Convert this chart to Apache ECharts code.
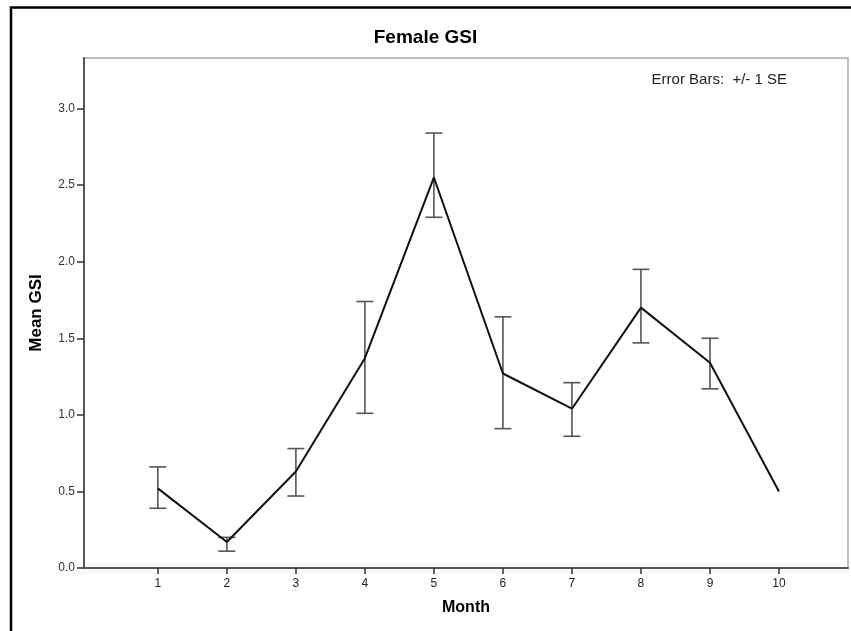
<!DOCTYPE html>
<html>
<head>
<meta charset="utf-8">
<script src="https://cdn.jsdelivr.net/npm/echarts@6/dist/echarts.min.js"></script>
<style>html,body{margin:0;padding:0;background:#fff}#c{width:851px;height:631px}</style>
</head>
<body>
<div id="c"></div>
<script>
var months = [1, 2, 3, 4, 5, 6, 7, 8, 9, 10];
var meanGSI = [0.52, 0.17, 0.63, 1.37, 2.55, 1.27, 1.04, 1.70, 1.34, 0.50];
var upperSE = [0.66, 0.20, 0.78, 1.74, 2.84, 1.64, 1.21, 1.95, 1.50, null];
var lowerSE = [0.39, 0.11, 0.47, 1.01, 2.29, 0.91, 0.86, 1.47, 1.17, null];
var yTicks = [0, 0.5, 1.0, 1.5, 2.0, 2.5, 3.0];

var lineData = months.map(function (m, i) { return [m, meanGSI[i]]; });
var errData = [];
months.forEach(function (m, i) {
  if (upperSE[i] != null && lowerSE[i] != null) errData.push([m, lowerSE[i], upperSE[i]]);
});

var chart = echarts.init(document.getElementById('c'), null, { renderer: 'canvas' });
var font = 'Liberation Sans, Arial, sans-serif';
chart.setOption({
  backgroundColor: '#fff',
  animation: false,
  title: {
    text: 'Female GSI', left: 'center', top: 23,
    textStyle: { fontFamily: font, fontSize: 19, fontWeight: 'bold', color: '#000' }
  },
  graphic: [
    { type: 'rect', z: -1, silent: true, shape: { x: 11, y: 7.5, width: 1000, height: 1000 },
      style: { fill: 'none', stroke: '#000', lineWidth: 2.5 } },
    { type: 'text', silent: true, x: 787, y: 80,
      style: { text: 'Error Bars:  +/- 1 SE', fontFamily: font, fontSize: 15, fill: '#222',
        align: 'right', verticalAlign: 'middle' } }
  ],
  grid: { left: 84, right: 3, top: 58, bottom: 63, show: true, borderColor: '#aaa', borderWidth: 1.5, backgroundColor: '#fff' },
  xAxis: {
    type: 'value', min: -0.07, max: 11,
    name: 'Month', nameLocation: 'middle', nameGap: 32,
    nameTextStyle: { fontFamily: font, fontSize: 16, fontWeight: 'bold', color: '#000' },
    axisLine: { show: true, onZero: false, lineStyle: { color: '#555', width: 2 } },
    axisTick: { show: true, length: 6, customValues: months, lineStyle: { color: '#333', width: 1.5 } },
    axisLabel: { customValues: months, margin: 10, fontFamily: font, fontSize: 12, color: '#222',
      formatter: function (v) { return String(Math.round(v)); } },
    splitLine: { show: false }
  },
  yAxis: {
    type: 'value', min: 0, max: 3.33,
    name: 'Mean GSI', nameLocation: 'middle', nameGap: 39,
    nameTextStyle: { fontFamily: font, fontSize: 17, fontWeight: 'bold', color: '#000' },
    axisLine: { show: true, onZero: false, lineStyle: { color: '#555', width: 2 } },
    axisTick: { show: true, length: 7, customValues: yTicks, lineStyle: { color: '#333', width: 1.5 } },
    axisLabel: { customValues: yTicks, margin: 9, fontFamily: font, fontSize: 12, color: '#333',
      formatter: function (v) { return v.toFixed(1); } },
    splitLine: { show: false }
  },
  series: [
    {
      type: 'line', data: lineData, symbol: 'none', z: 3,
      lineStyle: { color: '#111', width: 2 }
    },
    {
      type: 'custom', data: errData, z: 2,
      renderItem: function (params, api) {
        var x = api.value(0);
        var lo = api.coord([x, api.value(1)]);
        var hi = api.coord([x, api.value(2)]);
        var hw = 8.5;
        var st = { stroke: '#555', lineWidth: 1.6 };
        return {
          type: 'group',
          children: [
            { type: 'line', shape: { x1: lo[0], y1: lo[1], x2: hi[0], y2: hi[1] }, style: st },
            { type: 'line', shape: { x1: hi[0] - hw, y1: hi[1], x2: hi[0] + hw, y2: hi[1] }, style: st },
            { type: 'line', shape: { x1: lo[0] - hw, y1: lo[1], x2: lo[0] + hw, y2: lo[1] }, style: st }
          ]
        };
      }
    }
  ]
});
</script>
</body>
</html>
